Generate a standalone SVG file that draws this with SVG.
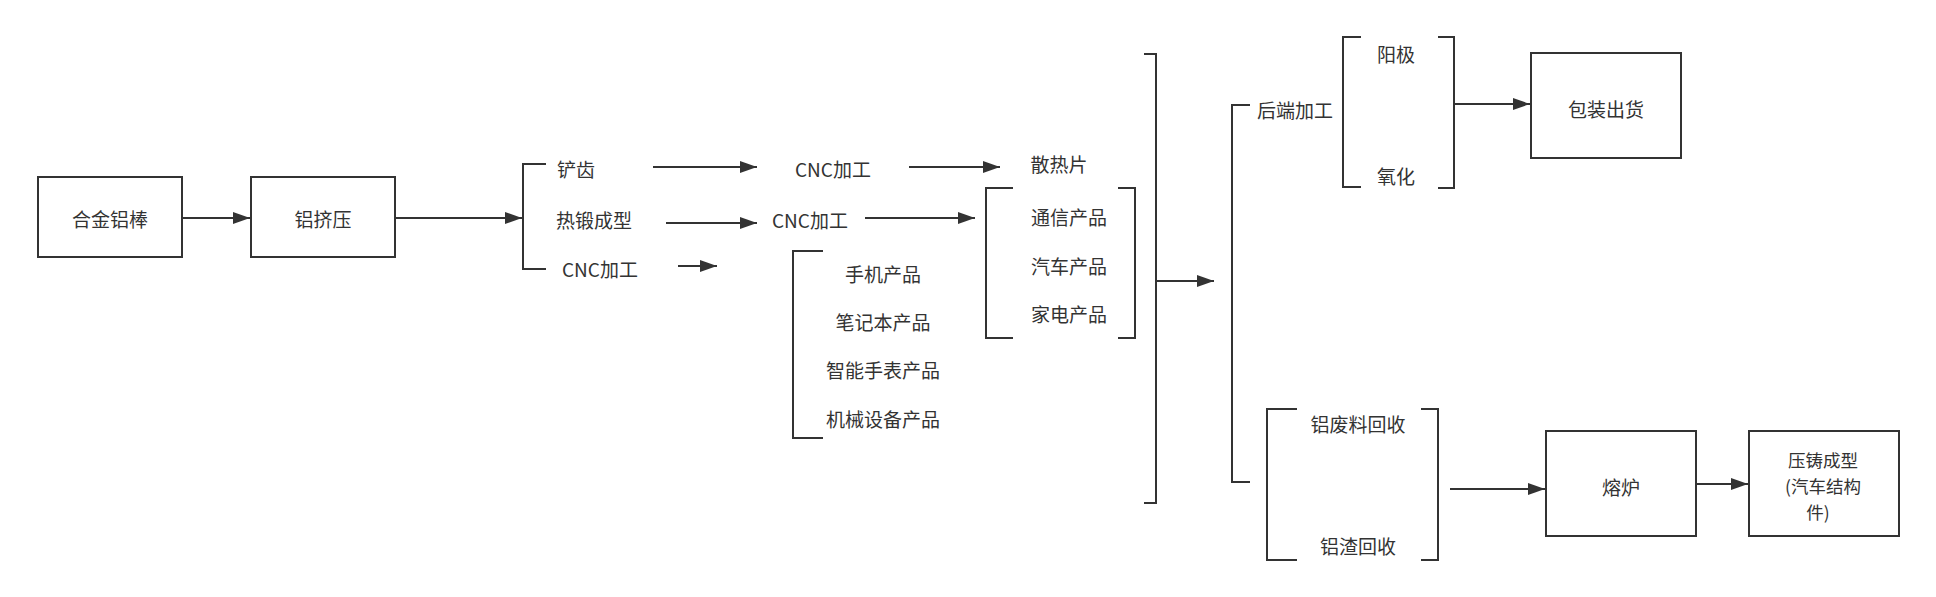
<svg xmlns="http://www.w3.org/2000/svg" width="1936" height="597" viewBox="0 0 1936 597">
<defs>
<marker id="arr" markerWidth="17" markerHeight="12" refX="17" refY="6" orient="auto" markerUnits="userSpaceOnUse">
<path d="M0,0 L17,6 L0,12 Z" fill="#333333"/>
</marker>
<style>
.box{fill:#ffffff;stroke:#333333;stroke-width:2}
.ln{fill:none;stroke:#333333;stroke-width:2}
.ar{fill:none;stroke:#333333;stroke-width:2;marker-end:url(#arr)}
text{font-family:"Noto Sans CJK SC","Noto Sans",sans-serif;font-size:19px;fill:#333333;text-anchor:middle;dominant-baseline:central}
.sm{font-size:17.5px}
</style>
</defs>
<rect width="1936" height="597" fill="#ffffff"/>
<g id="connectors">
<path class="ar" d="M182,218 H250"/>
<path class="ar" d="M395,218 H522"/>
<path class="ar" d="M653,167 H757"/>
<path class="ar" d="M909,167 H1000"/>
<path class="ar" d="M666,223 H757"/>
<path class="ar" d="M865,218 H975"/>
<path class="ar" d="M678,266 H717"/>
<path class="ar" d="M1156,281 H1214"/>
<path class="ar" d="M1454,104 H1530"/>
<path class="ar" d="M1450,489 H1545"/>
<path class="ar" d="M1696,484 H1748"/>
</g>
<g id="brackets">
<polyline class="ln" points="546,164 523,164 523,269 546,269"/>
<polyline class="ln" points="823,251 793,251 793,438 823,438"/>
<polyline class="ln" points="1013,188 986,188 986,338 1013,338"/>
<polyline class="ln" points="1118,188 1135,188 1135,338 1118,338"/>
<polyline class="ln" points="1144,54 1156,54 1156,503 1144,503"/>
<polyline class="ln" points="1250,105 1232,105 1232,482 1250,482"/>
<polyline class="ln" points="1361,37 1343,37 1343,187 1361,187"/>
<polyline class="ln" points="1438,37 1454,37 1454,188 1438,188"/>
<polyline class="ln" points="1297,409 1267,409 1267,560 1297,560"/>
<polyline class="ln" points="1421,409 1438,409 1438,560 1421,560"/>
</g>
<g id="n-hejin"><rect class="box" x="38" y="177" width="144" height="80"/><text x="110" y="218">合金铝棒</text></g>
<g id="n-jiya"><rect class="box" x="251" y="177" width="144" height="80"/><text x="323" y="218">铝挤压</text></g>
<g id="n-chanchi"><text x="576" y="168">铲齿</text></g>
<g id="n-cnc1"><text x="833" y="168">CNC加工</text></g>
<g id="n-sanre"><text x="1059" y="163">散热片</text></g>
<g id="n-reduan"><text x="594" y="219">热锻成型</text></g>
<g id="n-cnc2"><text x="810" y="219">CNC加工</text></g>
<g id="n-cnc3"><text x="600" y="268">CNC加工</text></g>
<g id="n-shouji"><text x="883" y="273">手机产品</text></g>
<g id="n-bijiben"><text x="883" y="321">笔记本产品</text></g>
<g id="n-shoubiao"><text x="883" y="369">智能手表产品</text></g>
<g id="n-jixie"><text x="883" y="418">机械设备产品</text></g>
<g id="n-tongxin"><text x="1069" y="216">通信产品</text></g>
<g id="n-qiche"><text x="1069" y="265">汽车产品</text></g>
<g id="n-jiadian"><text x="1069" y="313">家电产品</text></g>
<g id="n-houduan"><text x="1295" y="109">后端加工</text></g>
<g id="n-yangji"><text x="1396" y="53">阳极</text></g>
<g id="n-yanghua"><text x="1396" y="175">氧化</text></g>
<g id="n-baozhuang"><rect class="box" x="1531" y="53" width="150" height="105"/><text x="1606" y="108">包装出货</text></g>
<g id="n-feiliao"><text x="1358" y="423">铝废料回收</text></g>
<g id="n-zha"><text x="1358" y="545">铝渣回收</text></g>
<g id="n-ronglu"><rect class="box" x="1546" y="431" width="150" height="105"/><text x="1621" y="486">熔炉</text></g>
<g id="n-yazhu"><rect class="box" x="1749" y="431" width="150" height="105"/><text class="sm" x="1823" y="459">压铸成型</text><text class="sm" x="1823" y="485">(汽车结构</text><text class="sm" x="1818" y="511">件)</text></g>
</svg>
